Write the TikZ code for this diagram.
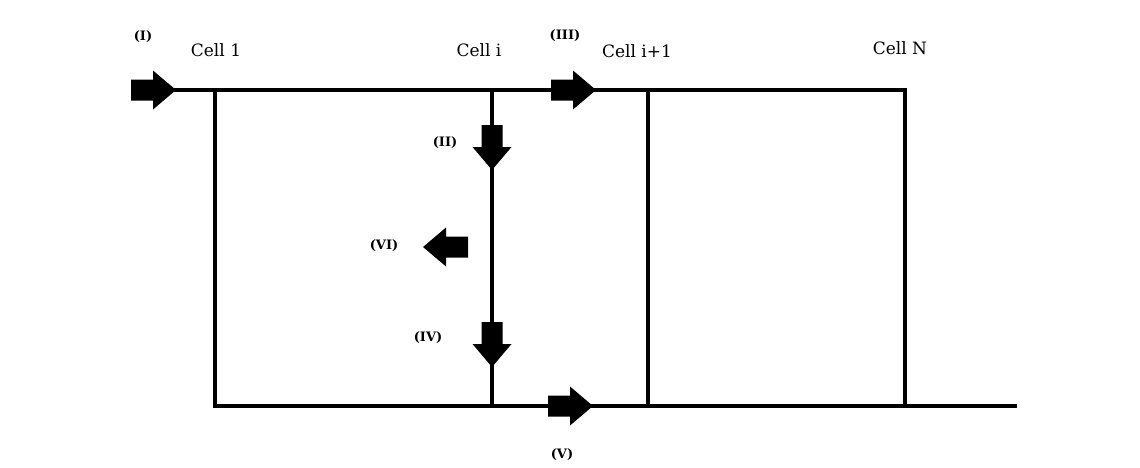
\documentclass[tikz,border=0pt]{standalone}
\usepackage{fontspec}
\setmainfont{DejaVu Serif}
\begin{document}
\begin{tikzpicture}[x=1pt,y=-1pt,
  wire/.style={line width=3.8pt,line cap=rect},
  celllabel/.style={font=\fontsize{17}{20}\selectfont,inner sep=0pt},
  flowlabel/.style={font=\bfseries\fontsize{13}{15}\selectfont,inner sep=0pt},
  blockarrow/.pic={\fill (0,-10.5) -- (22,-10.5) -- (22,-19.5) -- (45,0) -- (22,19.5) -- (22,10.5) -- (0,10.5) -- cycle;}]
\useasboundingbox (0,0) rectangle (1140,467);
% junction coordinates
\coordinate (tstart) at (160,90);
\coordinate (t1) at (215,90);
\coordinate (ti) at (492,90);
\coordinate (tip) at (648,90);
\coordinate (tN) at (905,90);
\coordinate (b1) at (215,406);
\coordinate (bi) at (492,406);
\coordinate (bip) at (648,406);
\coordinate (bN) at (905,406);
\coordinate (bend) at (1015,406);
% wires
\draw[wire] (tstart) -- (tN) -- (bN);
\draw[wire] (t1) -- (b1) -- (bend);
\draw[wire] (ti) -- (bi);
\draw[wire] (tip) -- (bip);
% block arrows
\pic at (131,90) {blockarrow};
\pic at (551,90) {blockarrow};
\pic at (548,406) {blockarrow};
\pic[rotate=-90] at (492,125) {blockarrow};
\pic[rotate=-90] at (492,322) {blockarrow};
\pic[rotate=180] at (468,247) {blockarrow};
% labels
\node[celllabel] (c1) at (216,50) {Cell 1};
\node[celllabel] (ci) at (479,50) {Cell i};
\node[celllabel] (cip) at (637,51) {Cell i+1};
\node[celllabel] (cN) at (900,48) {Cell N};
\node[flowlabel] (l1) at (143,37) {(I)};
\node[flowlabel] (l3) at (565,36) {(III)};
\node[flowlabel] (l2) at (445,143) {(II)};
\node[flowlabel] (l6) at (384,246) {(VI)};
\node[flowlabel] (l4) at (428,338) {(IV)};
\node[flowlabel] (l5) at (562,455) {(V)};
\end{tikzpicture}
\end{document}
